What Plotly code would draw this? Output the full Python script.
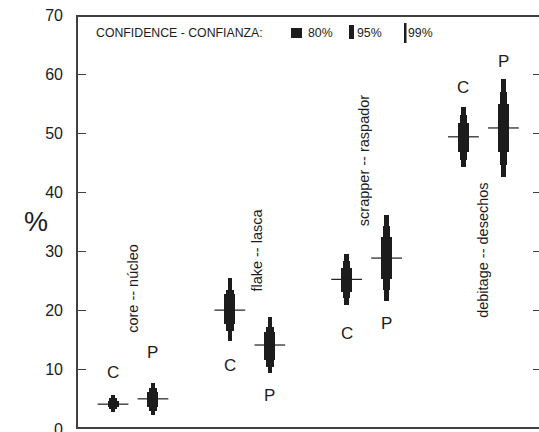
import plotly.graph_objects as go

# ---- data ----
groups = ["core -- núcleo", "flake -- lasca", "scrapper -- raspador", "debitage -- desechos"]
samples = ["C", "P"]
# per glyph order: core C, core P, flake C, flake P, scrapper C, scrapper P, debitage C, debitage P
mid   = [4.2, 5.1, 20.1, 14.2, 25.3, 28.9, 49.4, 50.9]
lo80  = [3.7, 3.8, 17.8, 11.7, 23.2, 25.4, 46.8, 46.8]
hi80  = [4.8, 6.3, 22.8, 16.4, 27.2, 32.5, 51.7, 55.0]
lo95  = [3.3, 3.1, 16.5, 10.5, 22.1, 23.5, 45.5, 44.6]
hi95  = [5.2, 7.0, 23.5, 17.2, 28.4, 34.3, 53.1, 57.0]
lo99  = [2.9, 2.4, 14.9, 9.5, 21.0, 21.6, 44.3, 42.6]
hi99  = [5.7, 7.8, 25.6, 18.9, 29.6, 36.2, 54.4, 59.2]
letter_y = [9.6, 12.9, 10.8, 5.7, 16.2, 17.9, 57.7, 62.1]
group_label_y = [23.7, 30.3, 45.5, 30.2]
group_label_dx = [0.0, 0.06, -0.02, 0.0]
y_ticks = [0, 10, 20, 30, 40, 50, 60, 70]

# ---- positions ----
offset = 0.171
xs = []
letters = []
for gi in range(len(groups)):
    for si, s in enumerate(samples):
        xs.append(gi + (-offset if si == 0 else offset))
        letters.append(s)

DARK = "#1c1c1c"
AX = "#404040"
FONT = "Liberation Sans, Arial, sans-serif"

# plot area spans pixels 76..543 horizontally (right edge just past the window)
FIG_W = 543
PLOT_W = FIG_W - 76
PLOT_H = 414
X_RANGE = [-0.488, 3.51]
Y_RANGE = [0, 70]
X_UNIT_PX = PLOT_W / (X_RANGE[1] - X_RANGE[0])
Y_UNIT_PX = PLOT_H / (Y_RANGE[1] - Y_RANGE[0])

fig = go.Figure()

def band(lo, hi, w):
    fig.add_trace(go.Bar(
        x=xs, y=[h - l for l, h in zip(lo, hi)], base=lo, width=w,
        marker=dict(color=DARK, line=dict(width=0)), showlegend=False,
        hoverinfo="skip"))

band(lo99, hi99, 0.038)
band(lo95, hi95, 0.064)
band(lo80, hi80, 0.094)

fig.add_trace(go.Scatter(
    x=xs, y=mid, mode="markers",
    marker=dict(symbol="line-ew", size=22, line=dict(width=1.2, color=DARK)),
    showlegend=False, hoverinfo="skip"))

# ---- axis frame drawn as thin bars along the axis ranges ----
x0, x1 = X_RANGE
y0, y1 = Y_RANGE
fw_x = 1.6 / X_UNIT_PX   # frame thickness in x units
fw_y = 1.6 / Y_UNIT_PX   # frame thickness in y units
tk_y = 1.2 / Y_UNIT_PX   # tick thickness in y units
tl = 10.0 / X_UNIT_PX    # tick length in x units

# left side (vertical bar)
fig.add_trace(go.Bar(x=[x0 + fw_x / 2], y=[y1 - y0], base=[y0], width=[fw_x],
                     marker=dict(color=AX, line=dict(width=0)),
                     showlegend=False, hoverinfo="skip"))
# top and bottom sides (horizontal bars)
fig.add_trace(go.Bar(orientation="h", y=[y1 - fw_y / 2, y0 + fw_y / 2],
                     x=[x1 - x0, x1 - x0], base=[x0, x0], width=[fw_y, fw_y],
                     marker=dict(color=AX, line=dict(width=0)),
                     showlegend=False, hoverinfo="skip"))
# inside ticks on left and right
tick_pos = y_ticks[1:-1]
fig.add_trace(go.Bar(orientation="h", y=tick_pos + tick_pos,
                     x=[tl] * (2 * len(tick_pos)),
                     base=[x0] * len(tick_pos) + [x1 - tl] * len(tick_pos),
                     width=[tk_y] * (2 * len(tick_pos)),
                     marker=dict(color=AX, line=dict(width=0)),
                     showlegend=False, hoverinfo="skip"))

annotations = []
for x, yv, t in zip(xs, letter_y, letters):
    annotations.append(dict(x=x, y=yv, text=t, showarrow=False,
                            font=dict(size=17, color=DARK, family=FONT)))
for gi, (g, yv, dx) in enumerate(zip(groups, group_label_y, group_label_dx)):
    annotations.append(dict(x=gi + dx, y=yv, text=g, showarrow=False, textangle=-90,
                            font=dict(size=14.5, color=DARK, family=FONT)))

def px(x):
    return (x - 76) / float(PLOT_W)
def py(y):
    return (429 - y) / float(PLOT_H)

annotations.append(dict(x=px(22), y=35, xref="paper", yref="y", text="%", showarrow=False,
                        font=dict(size=27, color=DARK, family=FONT)))

leg_font = dict(size=12.3, color=DARK, family=FONT)
for text, xpix in [("CONFIDENCE - CONFIANZA:", 94), ("80%", 306), ("95%", 355), ("99%", 406)]:
    annotations.append(dict(x=px(xpix), y=py(33), xref="paper", yref="paper", text=text,
                            showarrow=False, xanchor="left", yanchor="middle", font=leg_font))

def fill_rect(xa, xb, ya, yb, color=DARK):
    return dict(type="rect", xref="paper", yref="paper", x0=xa, x1=xb, y0=ya, y1=yb,
                fillcolor=color, line=dict(width=0), layer="above")

# legend keys
shapes = [
    fill_rect(px(291), px(302), py(38), py(28)),
    fill_rect(px(349), px(354), py(39), py(25)),
    fill_rect(px(404), px(406.5), py(43), py(23)),
]

fig.update_layout(
    width=FIG_W, height=432,
    margin=dict(l=76, r=0, t=15, b=3),
    paper_bgcolor="white", plot_bgcolor="white",
    barmode="overlay", bargap=0,
    showlegend=False,
    font=dict(family=FONT, color=DARK),
    xaxis=dict(range=X_RANGE, showgrid=False, zeroline=False, automargin=False,
               showticklabels=False, ticks="", showline=False),
    yaxis=dict(range=Y_RANGE, tickvals=y_ticks, showgrid=False, zeroline=False,
               automargin=False, ticks="", showline=False, ticklabeloverflow="allow",
               ticklabelstandoff=12,
               tickfont=dict(size=16, color=DARK, family=FONT)),
    annotations=annotations,
    shapes=shapes,
)

fig.write_html("out.html", config={"displayModeBar": False, "staticPlot": True},
               post_script="document.body.style.margin='0';document.body.style.overflow='hidden';")
